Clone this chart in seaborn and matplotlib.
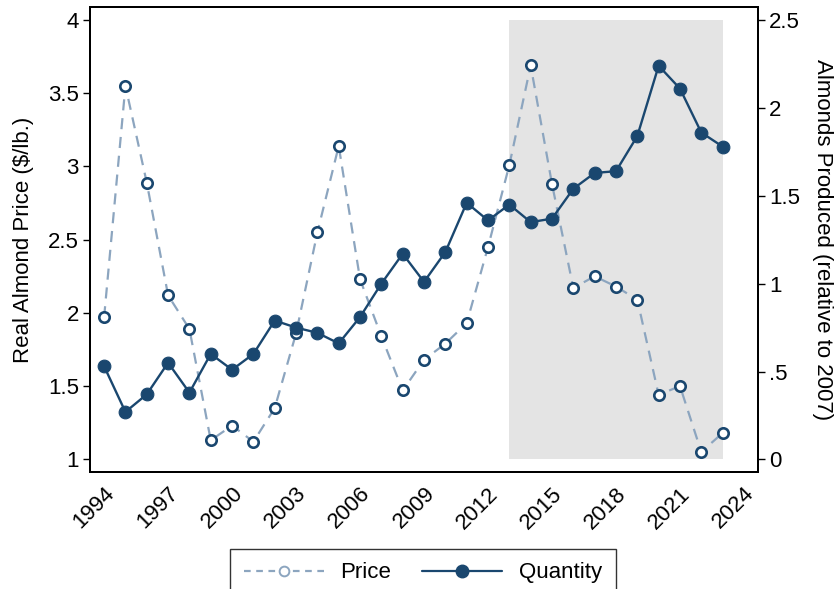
import matplotlib
matplotlib.use("Agg")
import matplotlib.pyplot as plt
from matplotlib.lines import Line2D
import seaborn as sns
import pandas as pd

# Annual series, 1994-2023
years = list(range(1994, 2024))
price = [1.97, 3.55, 2.89, 2.12, 1.89, 1.13, 1.23, 1.12, 1.35, 1.86,
         2.55, 3.14, 2.23, 1.84, 1.47, 1.68, 1.79, 1.93, 2.45, 3.01,
         3.69, 2.88, 2.17, 2.25, 2.18, 2.09, 1.44, 1.50, 1.05, 1.18]
quantity = [0.53, 0.27, 0.37, 0.55, 0.38, 0.60, 0.51, 0.60, 0.79, 0.75,
            0.72, 0.66, 0.81, 1.00, 1.17, 1.01, 1.18, 1.46, 1.36, 1.45,
            1.35, 1.37, 1.54, 1.63, 1.64, 1.84, 2.24, 2.11, 1.86, 1.78]

# Highlighted period
shade_years = [2013, 2023]
shade_price = [1, 4]

x_ticks = list(range(1994, 2025, 3))
left_ticks = [1, 1.5, 2, 2.5, 3, 3.5, 4]
left_labels = ["1", "1.5", "2", "2.5", "3", "3.5", "4"]
right_ticks = [0, 0.5, 1, 1.5, 2, 2.5]
right_labels = ["0", ".5", "1", "1.5", "2", "2.5"]

df = pd.DataFrame({"year": years, "price": price, "quantity": quantity})

navy = "#1a476f"
light = "#8ca5bf"
fs = 16

sns.set_theme(style="white")
plt.rcParams["font.family"] = ["Liberation Sans", "DejaVu Sans"]
plt.rcParams["axes.labelcolor"] = "black"
plt.rcParams["text.color"] = "black"

fig, ax = plt.subplots(figsize=(8.39, 5.89), dpi=100)
fig.subplots_adjust(left=0.1073, right=0.9035, top=0.988, bottom=0.1986)
ax2 = ax.twinx()

ax.fill_between(shade_years, shade_price[0], shade_price[1],
                color="#e4e4e4", linewidth=0, zorder=0)

sns.lineplot(data=df, x="year", y="price", ax=ax, color=light,
             linewidth=1.6, dashes=False, linestyle=(0, (5, 3.5)),
             marker="o", markersize=7.5, markerfacecolor="white",
             markeredgecolor=navy, markeredgewidth=1.9, zorder=3)
sns.lineplot(data=df, x="year", y="quantity", ax=ax2, color=navy,
             linewidth=1.7, marker="o", markersize=9.2,
             markerfacecolor=navy, markeredgecolor=navy, zorder=3)

ax.set_xlim(1993.34, 2024.66)
ax.set_ylim(0.913, 4.089)
ax2.set_ylim(-0.072, 2.574)

ax.set_xticks(x_ticks)
ax.set_xticklabels([str(t) for t in x_ticks], rotation=45, ha="right",
                   rotation_mode="anchor", fontsize=fs)
ax.set_yticks(left_ticks)
ax.set_yticklabels(left_labels, fontsize=fs)
ax2.set_yticks(right_ticks)
ax2.set_yticklabels(right_labels, fontsize=fs)

for a in (ax, ax2):
    a.tick_params(axis="both", which="major", direction="out", length=5,
                  width=1.0, color="black", pad=3, labelcolor="black")
    for s in a.spines.values():
        s.set_color("black")
        s.set_linewidth(1.4)
    a.grid(False)

ax.set_xlabel("")
ax.set_ylabel("Real Almond Price ($/lb.)", fontsize=fs, labelpad=10,
              color="black")
ax2.set_ylabel("Almonds Produced (relative to 2007)", fontsize=fs,
               rotation=270, labelpad=24, color="black")

handles = [
    Line2D([], [], color=light, linewidth=1.6, linestyle=(0, (3, 2.5)),
           marker="o", markersize=7, markerfacecolor="white",
           markeredgecolor=light, markeredgewidth=1.4),
    Line2D([], [], color=navy, linewidth=1.6, marker="o", markersize=9,
           markerfacecolor=navy, markeredgecolor=navy),
]
leg = fig.legend(handles, ["Price", "Quantity"], loc="upper center",
                 bbox_to_anchor=(423 / 839, 1 - 549 / 589), ncol=2,
                 fontsize=fs, frameon=True, fancybox=False,
                 handlelength=3.6, columnspacing=1.4, borderpad=0.6,
                 handletextpad=0.75, borderaxespad=0)
leg.get_frame().set_edgecolor("black")
leg.get_frame().set_linewidth(1.0)

fig.savefig("out.png", dpi=100)
